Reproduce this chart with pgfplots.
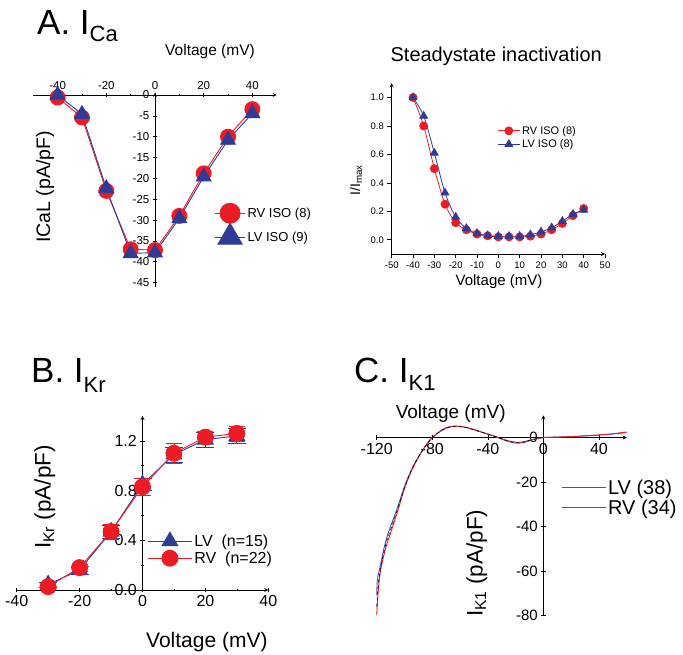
\documentclass[border=0pt]{standalone}
\usepackage{pgfplots}
\pgfplotsset{compat=1.18}
\usepackage{fontspec}
\setmainfont{Liberation Sans}

\definecolor{rvred}{RGB}{237,28,36}
\definecolor{lvblue}{RGB}{46,60,150}
\definecolor{lvline}{RGB}{55,85,200}
\newcommand{\fs}[1]{\fontsize{#1}{#1}\selectfont}

\pgfplotsset{
  panel/.style={
    scale only axis, clip=false, anchor=south west,
    axis line style={-, black, line width=0.8pt},
    tick style={black, line width=0.6pt},
    /pgf/number format/assume math mode=true,
    hide obscured x ticks=false, hide obscured y ticks=false,
    legend cell align=left,
    legend style={draw=none, fill=none, inner sep=1pt},
  },
  longlegend/.style={
    legend image code/.code={
      \draw[mark repeat=2, mark phase=2, ##1] plot coordinates {(0pt,0pt) (#1/2,0pt) (#1,0pt)};
    }
  },
}

\begin{document}
\begin{tikzpicture}[x=1pt,y=1pt]
\useasboundingbox (0,0) rectangle (683,654);

% panel titles
\node[anchor=base west, inner sep=0pt, font=\fs{35}] at (37,619) {A. I\raisebox{-7pt}{\fs{22}Ca}};
\node[anchor=base west, inner sep=0pt, font=\fs{35}] at (31,271) {B. I\raisebox{-10pt}{\fs{22}Kr}};
\node[anchor=base west, inner sep=0pt, font=\fs{35}] at (354,271) {C. I\raisebox{-8pt}{\fs{22}K1}};

% ---------- A: ICa I-V ----------
\begin{axis}[panel, at={(33.3pt,367.2pt)}, width=243.4pt, height=193.9pt,
  xmin=-50, xmax=50, ymin=-46, ymax=0.5,
  axis x line=middle, axis y line=middle,
  xtick={-40,-20,0,20,40}, minor xtick={-30,-10,10,30},
  ytick={0,-5,-10,-15,-20,-25,-30,-35,-40,-45},
  xticklabel style={anchor=south, yshift=4pt, font=\fs{11.5}},
  yticklabel style={font=\fs{11.5}},
  xlabel={Voltage (mV)},
  xlabel style={at={(axis description cs:0.726,1.211)}, anchor=center, font=\fs{15.5}},
  ylabel={ICaL (pA/pF)},
  ylabel style={at={(axis description cs:0.048,0.515)}, rotate=90, anchor=center, font=\fs{19.5}},
  longlegend=30pt,
  legend style={at={(axis description cs:0.74,0.324)}, anchor=west, font=\fs{13}},
]
\addplot[rvred, line width=0.9pt, mark=*, mark size=7.5pt, mark options={fill=rvred}, forget plot]
coordinates {(-40,-0.6) (-30,-5.4) (-20,-23) (-10,-37) (0,-37.2) (10,-29) (20,-18.8) (30,-10) (40,-3.4)};
\addplot[lvblue, line width=0.9pt, mark=triangle*, mark size=8.5pt, mark options={fill=lvblue}, forget plot]
coordinates {(-40,0) (-30,-4.6) (-20,-22.4) (-10,-38) (0,-37.8) (10,-29.6) (20,-19.6) (30,-10.8) (40,-4.4)};
\addlegendimage{rvred, line width=0.9pt, mark=*, mark size=10pt, mark options={fill=rvred}}
\addlegendentry{RV ISO (8)}
\addlegendimage{lvblue, line width=0.9pt, mark=triangle*, mark size=14pt, mark options={fill=lvblue}}
\addlegendentry{LV ISO (9)}
\end{axis}

% ---------- A: steady-state inactivation ----------
\begin{axis}[panel, at={(391.7pt,400pt)}, width=213.3pt, height=170.7pt,
  xmin=-50, xmax=50, ymin=-0.1, ymax=1.1,
  axis x line=bottom, axis y line=left, tick align=outside,
  xtick={-50,-40,-30,-20,-10,0,10,20,30,40,50},
  ytick={0,0.2,0.4,0.6,0.8,1.0},
  yticklabel style={/pgf/number format/.cd, fixed, fixed zerofill, precision=1},
  ticklabel style={font=\fs{9.5}},
  title={Steadystate inactivation},
  title style={at={(axis description cs:0.49,1.12)}, anchor=center, font=\fs{20}},
  xlabel={Voltage (mV)},
  xlabel style={at={(axis description cs:0.503,-0.164)}, anchor=center, font=\fs{15}},
  ylabel={I/I\textsubscript{max}},
  ylabel style={at={(axis description cs:-0.167,0.433)}, anchor=center, font=\fs{14}},
  longlegend=22pt,
  legend style={at={(axis description cs:0.49,0.682)}, anchor=west, font=\fs{11}},
]
\addplot[rvred, line width=0.8pt, smooth, mark=*, mark size=4pt, mark options={fill=rvred}]
coordinates {(-40,1.0) (-35,0.8) (-30,0.5) (-25,0.25) (-20,0.12) (-15,0.07) (-10,0.04) (-5,0.028)
 (0,0.02) (5,0.02) (10,0.02) (15,0.025) (20,0.04) (25,0.07) (30,0.115) (35,0.17) (40,0.22)};
\addlegendentry{RV ISO (8)}
\addplot[lvblue, line width=0.8pt, smooth, mark=triangle*, mark size=4.5pt, mark options={fill=lvblue}]
coordinates {(-40,1.0) (-35,0.87) (-30,0.61) (-25,0.33) (-20,0.16) (-15,0.08) (-10,0.045) (-5,0.03)
 (0,0.025) (5,0.025) (10,0.025) (15,0.035) (20,0.055) (25,0.085) (30,0.13) (35,0.18) (40,0.21)};
\addlegendentry{LV ISO (8)}
\end{axis}

% ---------- B: IKr ----------
\begin{axis}[panel, at={(16.7pt,64pt)}, width=251.6pt, height=174pt,
  xmin=-40, xmax=40, ymin=0, ymax=1.4,
  axis x line=bottom, axis y line=middle,
  xtick={-40,-20,0,20,40}, minor xtick={-30,-10,10,30},
  ytick={0,0.4,0.8,1.2}, minor ytick={0.2,0.6,1.0},
  yticklabel style={/pgf/number format/.cd, fixed, fixed zerofill, precision=1},
  ticklabel style={font=\fs{16}},
  xlabel={Voltage (mV)},
  xlabel style={at={(axis description cs:0.756,-0.3)}, anchor=center, font=\fs{21}},
  ylabel={I\textsubscript{Kr} (pA/pF)},
  ylabel style={at={(axis description cs:0.112,0.534)}, rotate=90, anchor=center, font=\fs{22.5}},
  longlegend=44pt,
  legend style={at={(axis description cs:0.515,0.233)}, anchor=west, font=\fs{16}},
]
\addplot[lvblue, line width=0.9pt, mark=triangle*, mark size=9pt, mark options={fill=lvblue},
  error bars/.cd, y dir=both, y explicit, error bar style={line width=0.8pt}]
coordinates {(-30,0.045) +- (0,0.02) (-20,0.16) +- (0,0.03) (-10,0.47) +- (0,0.05) (0,0.85) +- (0,0.05)
 (10,1.09) +- (0,0.06) (20,1.21) +- (0,0.06) (30,1.24) +- (0,0.06)};
\addlegendentry{LV\ \ (n=15)}
\addplot[rvred, line width=0.9pt, mark=*, mark size=8pt, mark options={fill=rvred},
  error bars/.cd, y dir=both, y explicit, error bar style={line width=0.8pt}]
coordinates {(-30,0.027) +- (0,0.02) (-20,0.18) +- (0,0.03) (-10,0.47) +- (0,0.06) (0,0.83) +- (0,0.07)
 (10,1.10) +- (0,0.08) (20,1.23) +- (0,0.05) (30,1.26) +- (0,0.06)};
\addlegendentry{RV\ \ (n=22)}
\end{axis}

% ---------- C: IK1 ----------
\begin{axis}[panel, at={(376.7pt,38.7pt)}, width=250pt, height=200pt,
  xmin=-120, xmax=60, ymin=-80, ymax=10,
  axis x line=middle, axis y line=middle,
  xtick={-120,-80,-40,0,40}, ytick={-80,-60,-40,-20,0},
  xticklabel style={font=\fs{16}}, yticklabel style={font=\fs{15}},
  xlabel={Voltage (mV)},
  xlabel style={at={(axis description cs:0.296,1.01)}, anchor=center, font=\fs{19}},
  ylabel={I\textsubscript{K1} (pA/pF)},
  ylabel style={at={(axis description cs:0.4,0.26)}, rotate=90, anchor=center, font=\fs{22.5}},
  longlegend=44pt,
  legend style={at={(axis description cs:0.733,0.587)}, anchor=west, font=\fs{20}},
]
\addplot[lvline, line width=0.9pt, smooth]
coordinates {(-120,-71) (-119.5,-64) (-117.5,-58) (-115,-50.5) (-112.5,-44.5) (-110,-40) (-105,-31.5)
 (-100,-22) (-95,-14.5) (-90,-8.7) (-85,-3.9) (-80,0) (-75,2.6) (-70,4.4) (-65,5.1) (-60,5.0)
 (-55,4.4) (-50,3.5) (-45,2.5) (-40,1.5) (-35,0.5) (-30,-0.7) (-25,-1.8) (-20,-2.5) (-15,-2.4)
 (-10,-1.5) (-5,-0.6) (0,0) (10,0.2) (20,0.4) (30,0.7) (40,1.1) (50,1.6) (60,2.2)};
\addlegendentry{LV (38)}
\addplot[rvred, line width=0.9pt, smooth]
coordinates {(-120,-80) (-119,-70) (-117.5,-61) (-115,-53.3) (-112.5,-47.5) (-110,-43) (-105,-33.3)
 (-100,-23) (-95,-15) (-90,-9) (-85,-3.9) (-80,0) (-75,2.4) (-70,4.2) (-65,5.0) (-60,5.0)
 (-55,4.5) (-50,3.6) (-45,2.6) (-40,1.6) (-35,0.6) (-30,-0.5) (-25,-1.5) (-20,-2.1) (-15,-2.0)
 (-10,-1.2) (-5,-0.5) (0,0) (10,0.2) (20,0.4) (30,0.8) (40,1.2) (50,1.7) (60,2.5)};
\addlegendentry{RV (34)}
\addplot[black, line width=0.6pt, dashed, smooth, forget plot]
coordinates {(-120,-76) (-119,-67) (-117.5,-59.5) (-115,-52) (-112.5,-46) (-110,-41.5) (-105,-32.4)
 (-100,-22.5) (-95,-14.8) (-90,-8.8) (-85,-3.9) (-80,0) (-75,2.5) (-70,4.3) (-65,5.0) (-60,5.0)
 (-55,4.4) (-50,3.5) (-45,2.5) (-40,1.5) (-35,0.5) (-30,-0.6) (-25,-1.7) (-20,-2.3) (-15,-2.2)
 (-10,-1.3) (-5,-0.5) (0,0)};
\end{axis}
\end{tikzpicture}
\end{document}
